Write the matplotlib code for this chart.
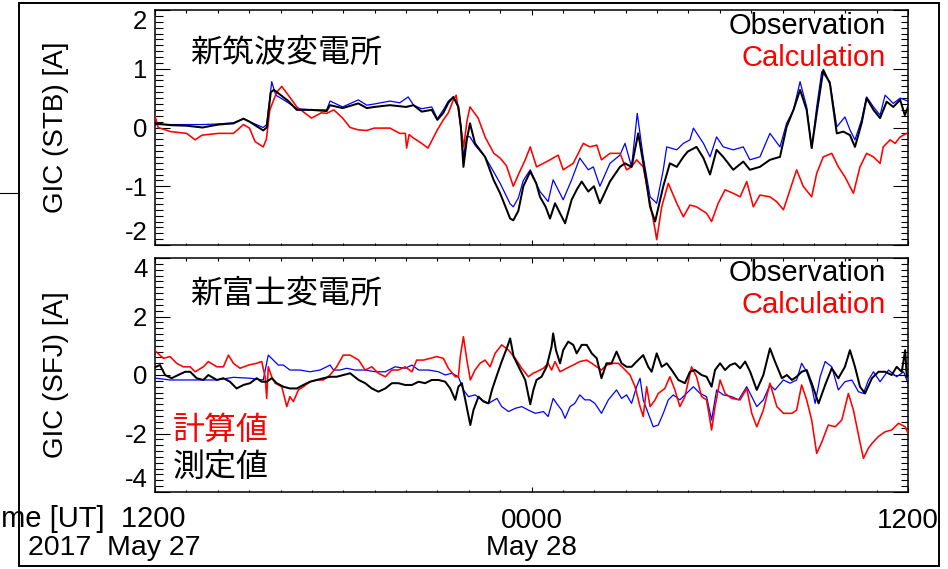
import matplotlib
matplotlib.use('Agg')
import matplotlib.pyplot as plt
import numpy as np
from matplotlib.ticker import FixedLocator, MultipleLocator
from matplotlib.patches import Rectangle
from matplotlib.lines import Line2D
from matplotlib.transforms import blended_transform_factory, offset_copy

# ---------------- data (hours since 2017-05-27 12:00 UT, current in A) ----------------
# Top panel: 新筑波変電所 (STB)
stb_obs = np.array([
    (0.0, 0.07), (0.5, 0.04), (1.01, 0.03), (1.51, 0.0), (2.02, 0.05), (2.5, 0.07), (2.82, 0.15),
    (3.01, 0.1), (3.45, -0.05), (3.56, 0.0), (3.69, 0.6), (3.79, 0.64), (4.01, 0.55), (4.25, 0.45),
    (4.52, 0.3), (4.99, 0.3), (5.47, 0.28), (5.58, 0.38), (5.98, 0.33), (6.48, 0.41), (6.75, 0.33),
    (6.99, 0.35), (7.49, 0.38), (8.0, 0.35), (8.24, 0.38), (8.5, 0.27), (8.82, 0.3), (9.0, 0.13),
    (9.19, 0.25), (9.35, 0.42), (9.51, 0.52), (9.67, 0.35), (9.75, 0.0), (9.83, -0.67), (9.94, -0.2),
    (10.04, 0.07), (10.2, -0.27), (10.52, -0.5), (10.79, -0.89), (11.0, -1.12), (11.32, -1.55),
    (11.42, -1.58), (11.58, -1.42), (11.74, -1.0), (11.96, -0.75), (12.15, -0.95), (12.27, -1.18),
    (12.45, -1.35), (12.59, -1.55), (12.75, -1.29), (12.9, -1.45), (13.07, -1.63), (13.28, -1.23),
    (13.45, -1.05), (13.6, -0.92), (13.81, -1.09), (13.99, -1.0), (14.18, -1.29), (14.5, -0.92),
    (14.82, -0.67), (14.98, -0.61), (15.19, -0.67), (15.4, -0.1), (15.62, -0.78), (15.78, -1.35),
    (15.94, -1.6), (16.2, -1.0), (16.41, -0.61), (16.63, -0.67), (16.84, -0.5), (16.98, -0.41),
    (17.26, -0.33), (17.48, -0.52), (17.69, -0.8), (17.9, -0.38), (18.11, -0.5), (18.43, -0.72),
    (18.75, -0.58), (18.96, -0.72), (19.28, -0.67), (19.6, -0.55), (19.92, -0.5), (20.13, 0.01),
    (20.35, 0.3), (20.56, 0.64), (20.77, 0.3), (20.93, -0.35), (21.09, 0.24), (21.3, 0.98),
    (21.51, 0.75), (21.73, -0.1), (21.94, -0.07), (22.15, -0.13), (22.31, -0.33), (22.52, 0.07),
    (22.68, 0.5), (22.9, 0.3), (23.11, 0.16), (23.32, 0.44), (23.53, 0.35), (23.75, 0.47),
    (23.9, 0.21), (24.0, 0.35)])

stb_calc = np.array([
    (0.0, 0.2), (0.1, 0.0), (0.5, -0.07), (1.01, -0.1), (1.28, -0.21), (1.5, -0.13), (2.02, -0.1),
    (2.5, -0.1), (2.82, 0.05), (3.01, -0.01), (3.19, -0.24), (3.45, -0.33), (3.55, -0.2), (3.66, 0.3),
    (3.88, 0.6), (4.04, 0.7), (4.25, 0.55), (4.52, 0.35), (4.99, 0.16), (5.3, 0.25), (5.47, 0.24),
    (5.7, 0.3), (5.98, 0.16), (6.22, 0.0), (6.48, -0.04), (6.75, -0.05), (6.99, -0.01), (7.49, -0.01),
    (7.8, -0.1), (7.98, -0.1), (8.02, -0.35), (8.1, -0.12), (8.24, -0.18), (8.5, -0.27), (8.7, -0.35),
    (9.0, -0.04), (9.19, 0.13), (9.35, 0.25), (9.51, 0.47), (9.6, 0.55), (9.75, 0.0), (9.84, -0.33),
    (9.94, 0.1), (10.04, 0.35), (10.3, 0.16), (10.52, -0.16), (10.8, -0.44), (11.0, -0.52),
    (11.2, -0.65), (11.42, -1.0), (11.6, -0.78), (11.8, -0.55), (11.96, -0.33), (12.16, -0.67),
    (12.38, -0.61), (12.59, -0.55), (12.85, -0.47), (13.01, -0.72), (13.33, -0.61), (13.65, -0.27),
    (13.86, -0.33), (14.08, -0.3), (14.23, -0.55), (14.5, -0.44), (14.82, -0.44), (15.03, -0.72),
    (15.19, -0.67), (15.35, -0.55), (15.56, -0.67), (15.72, -1.12), (15.94, -1.74), (15.99, -1.91),
    (16.15, -1.35), (16.36, -0.95), (16.63, -1.29), (16.84, -1.52), (17.05, -1.32), (17.26, -1.35),
    (17.58, -1.46), (17.74, -1.6), (17.95, -1.29), (18.17, -1.06), (18.43, -1.12), (18.65, -1.18),
    (18.86, -0.92), (19.07, -1.35), (19.28, -1.15), (19.6, -1.18), (19.81, -1.26), (20.03, -1.4),
    (20.24, -1.06), (20.45, -0.72), (20.66, -1.0), (20.93, -1.18), (21.09, -0.78), (21.3, -0.5),
    (21.57, -0.44), (21.78, -0.67), (21.99, -0.84), (22.26, -1.12), (22.47, -0.67), (22.68, -0.44),
    (22.9, -0.5), (23.11, -0.61), (23.21, -0.33), (23.43, -0.21), (23.59, -0.27), (23.75, -0.16),
    (23.96, -0.1)])

stb_blue = np.array([
    (0.0, 0.05), (0.5, 0.05), (1.01, 0.05), (1.5, 0.05), (2.02, 0.06), (2.5, 0.08), (2.82, 0.15),
    (3.01, 0.1), (3.45, 0.0), (3.56, 0.05), (3.72, 0.78), (3.85, 0.55), (4.01, 0.5), (4.25, 0.42),
    (4.52, 0.32), (4.99, 0.3), (5.47, 0.3), (5.58, 0.45), (5.98, 0.35), (6.48, 0.47), (6.75, 0.38),
    (6.99, 0.4), (7.49, 0.45), (7.8, 0.42), (8.07, 0.52), (8.24, 0.38), (8.5, 0.32), (8.82, 0.35),
    (9.0, 0.15), (9.19, 0.3), (9.35, 0.45), (9.51, 0.52), (9.67, 0.35), (9.75, 0.0), (9.83, -0.5),
    (9.94, -0.15), (10.04, -0.16), (10.2, -0.3), (10.52, -0.5), (10.79, -0.75), (11.0, -0.95),
    (11.32, -1.3), (11.42, -1.35), (11.58, -1.2), (11.74, -0.9), (11.96, -0.72), (12.27, -1.09),
    (12.53, -1.26), (12.69, -0.89), (13.01, -1.23), (13.28, -0.89), (13.54, -0.52), (13.81, -0.72),
    (13.97, -0.67), (14.18, -1.0), (14.5, -0.61), (14.82, -0.47), (14.98, -0.27), (15.19, -0.67),
    (15.37, 0.24), (15.56, -0.5), (15.78, -1.18), (15.99, -1.29), (16.2, -0.72), (16.31, -0.33),
    (16.63, -0.38), (16.84, -0.27), (17.05, -0.21), (17.16, -0.01), (17.48, -0.27), (17.69, -0.5),
    (17.9, -0.16), (18.11, -0.33), (18.43, -0.38), (18.75, -0.33), (18.96, -0.55), (19.28, -0.5),
    (19.6, -0.1), (19.92, -0.33), (20.13, 0.07), (20.35, 0.3), (20.56, 0.78), (20.77, 0.35),
    (20.93, -0.35), (21.09, 0.35), (21.25, 0.95), (21.51, 0.78), (21.73, 0.01), (21.99, 0.18),
    (22.15, -0.04), (22.31, -0.21), (22.52, 0.13), (22.68, 0.52), (22.9, 0.35), (23.11, 0.21),
    (23.27, 0.55), (23.53, 0.41), (23.75, 0.5), (23.9, 0.47), (23.99, 0.45)])

# Bottom panel: 新富士変電所 (SFJ)
sfj_obs = np.array([
    (0.03, 0.28), (0.16, 0.34), (0.32, 0.0), (0.53, -0.11), (0.74, 0.0), (0.96, 0.11), (1.12, 0.11),
    (1.33, -0.11), (1.54, -0.17), (1.70, 0.0), (1.97, -0.17), (2.18, -0.11), (2.39, -0.23),
    (2.60, -0.46), (2.82, -0.34), (3.03, -0.28), (3.24, -0.11), (3.40, -0.23), (3.56, -0.23),
    (3.72, -0.11), (3.88, -0.28), (4.09, -0.4), (4.30, -0.46), (4.52, -0.46), (4.73, -0.34),
    (4.94, -0.23), (5.15, -0.17), (5.37, -0.11), (5.58, -0.06), (5.79, -0.06), (6.00, 0.0),
    (6.22, 0.06), (6.49, -0.17), (6.70, -0.28), (6.91, -0.46), (7.12, -0.57), (7.34, -0.46),
    (7.55, -0.28), (7.76, -0.28), (7.97, -0.34), (8.19, -0.34), (8.40, -0.23), (8.61, -0.28),
    (8.82, -0.17), (9.04, -0.17), (9.25, -0.23), (9.41, -0.46), (9.57, -0.85), (9.67, -0.4),
    (9.78, -0.28), (9.89, -0.85), (10.05, -1.71), (10.15, -1.2), (10.31, -0.74), (10.47, -0.91),
    (10.63, -0.97), (10.74, -0.51), (10.90, 0.0), (11.05, 0.46), (11.21, 0.91), (11.32, 1.25),
    (11.43, 0.63), (11.59, 0.28), (11.80, -0.17), (11.96, -1.0), (12.06, -0.51), (12.16, -0.17),
    (12.32, -0.06), (12.48, 0.28), (12.64, 0.97), (12.69, 1.42), (12.78, 0.85), (12.91, 0.4),
    (13.01, 0.85), (13.17, 1.14), (13.33, 1.03), (13.44, 0.74), (13.60, 1.03), (13.76, 1.03),
    (13.92, 0.74), (14.08, 0.57), (14.23, -0.11), (14.39, 0.4), (14.55, 0.4), (14.71, 0.8),
    (14.87, 0.4), (15.03, 0.28), (15.19, 0.28), (15.35, 0.46), (15.56, 0.68), (15.72, 0.28),
    (15.83, 0.11), (15.99, 0.74), (16.15, 0.28), (16.31, 0.4), (16.47, 0.17), (16.68, -0.17),
    (16.89, -0.28), (17.05, 0.11), (17.21, 0.17), (17.42, 0.0), (17.58, -0.06), (17.74, -0.4),
    (17.85, 0.17), (18.01, 0.4), (18.17, 0.17), (18.33, 0.34), (18.49, 0.4), (18.65, 0.23),
    (18.81, 0.46), (18.97, 0.11), (19.18, -0.51), (19.39, 0.0), (19.60, 0.91), (19.76, 0.46),
    (19.98, -0.11), (20.14, 0.0), (20.30, -0.17), (20.45, -0.06), (20.61, 0.11), (20.77, 0.17),
    (20.93, -0.28), (21.15, -0.97), (21.36, -0.34), (21.57, 0.23), (21.78, -0.11), (21.99, 0.28),
    (22.15, 0.85), (22.31, 0.28), (22.47, -0.4), (22.63, -0.63), (22.85, -0.11), (23.06, 0.11),
    (23.27, 0.11), (23.48, 0.0), (23.64, 0.28), (23.80, 0.11), (23.91, 0.85), (23.96, -0.06)])

sfj_calc = np.array([
    (0.03, 0.8), (0.27, 0.57), (0.48, 0.63), (0.69, 0.4), (0.90, 0.28), (1.12, 0.28), (1.28, 0.11),
    (1.54, 0.28), (1.70, 0.46), (1.97, 0.28), (2.18, 0.28), (2.34, 0.68), (2.50, 0.4), (2.71, 0.23),
    (2.98, 0.34), (3.24, 0.4), (3.40, 0.46), (3.51, -0.06), (3.56, -0.8), (3.61, 0.28), (3.72, -0.06),
    (3.83, -0.28), (4.04, -0.4), (4.20, -1.08), (4.30, -0.74), (4.41, -0.91), (4.57, -0.51),
    (4.73, -0.4), (4.94, -0.23), (5.15, -0.17), (5.37, -0.17), (5.58, 0.0), (5.79, 0.28),
    (6.00, 0.68), (6.22, 0.68), (6.49, 0.51), (6.70, 0.17), (6.91, 0.28), (7.12, 0.06), (7.34, -0.06),
    (7.55, 0.17), (7.76, 0.17), (7.97, 0.28), (8.19, 0.11), (8.34, 0.51), (8.56, 0.51), (8.77, 0.57),
    (8.98, 0.63), (9.19, 0.57), (9.35, 0.23), (9.57, -0.06), (9.67, -0.06), (9.73, 0.63),
    (9.83, 1.31), (9.94, 0.51), (10.05, -0.17), (10.20, 0.17), (10.36, 0.4), (10.52, 0.51),
    (10.68, 0.28), (10.84, 0.74), (11.05, 1.03), (11.27, 0.85), (11.48, 0.57), (11.69, 0.23),
    (11.90, -0.06), (12.05, 0.06), (12.16, 0.11), (12.38, 0.23), (12.53, 0.4), (12.64, 0.17),
    (12.75, 0.46), (12.91, 0.11), (13.12, 0.23), (13.33, 0.34), (13.54, 0.46), (13.76, 0.51),
    (13.92, 0.4), (14.08, 0.28), (14.23, 0.17), (14.39, 0.34), (14.61, 0.4), (14.77, 0.4),
    (14.93, 0.23), (15.14, 0.0), (15.30, -0.4), (15.46, -1.08), (15.56, -1.42), (15.67, -0.4),
    (15.78, -1.08), (15.94, -0.85), (16.04, -0.63), (16.25, -0.46), (16.41, -0.06), (16.57, -0.51),
    (16.73, -1.08), (16.89, -0.74), (17.10, 0.28), (17.26, -0.06), (17.42, -0.74), (17.58, -0.85),
    (17.74, -1.88), (17.85, -1.08), (18.01, -0.17), (18.17, -0.63), (18.38, -0.8), (18.65, -0.85),
    (18.86, -0.46), (19.02, -1.31), (19.18, -1.77), (19.39, -1.2), (19.60, -0.28), (19.82, -1.08),
    (20.03, -1.31), (20.30, -1.31), (20.45, -1.2), (20.61, -0.34), (20.77, -0.85), (20.93, -1.54),
    (21.09, -2.68), (21.25, -2.3), (21.46, -1.71), (21.68, -1.77), (21.89, -1.54), (22.10, -0.63),
    (22.26, -1.2), (22.47, -2.3), (22.58, -2.85), (22.74, -2.5), (22.85, -2.34), (23.06, -2.1),
    (23.27, -1.94), (23.48, -1.88), (23.70, -1.65), (23.91, -1.77), (24.0, -1.99)])

sfj_blue = np.array([
    (0.03, -0.11), (0.48, -0.17), (0.90, -0.17), (1.43, -0.17), (1.97, -0.17), (2.50, -0.08),
    (3.03, -0.11), (3.45, -0.17), (3.61, 0.68), (3.77, 0.51), (3.93, 0.34), (4.09, 0.34),
    (4.30, 0.17), (4.62, 0.17), (4.94, 0.11), (5.26, 0.17), (5.47, 0.28), (5.58, 0.34), (5.69, 0.17),
    (5.90, 0.17), (6.11, 0.23), (6.38, 0.17), (6.70, 0.17), (7.02, 0.11), (7.34, 0.11), (7.65, 0.28),
    (7.97, 0.23), (8.19, 0.34), (8.40, 0.17), (8.72, 0.17), (9.04, 0.11), (9.25, 0.0), (9.46, 0.06),
    (9.67, -0.06), (9.83, -0.51), (9.99, -0.74), (10.20, -0.68), (10.42, -0.85), (10.63, -0.97),
    (10.90, -0.8), (11.05, -1.08), (11.27, -1.25), (11.48, -1.14), (11.69, -1.08), (11.90, -1.2),
    (12.12, -1.31), (12.38, -1.25), (12.53, -1.42), (12.69, -0.8), (12.80, -0.97), (12.96, -1.2),
    (13.07, -1.48), (13.23, -1.08), (13.38, -0.97), (13.54, -0.68), (13.70, -0.85), (13.86, -0.85),
    (14.02, -0.97), (14.23, -1.31), (14.45, -0.85), (14.71, -0.51), (14.87, -0.8), (15.03, -0.68),
    (15.19, -0.97), (15.35, -0.4), (15.46, -0.11), (15.56, -0.85), (15.72, -1.31), (15.88, -1.77),
    (16.04, -1.71), (16.20, -1.31), (16.36, -0.85), (16.52, -0.68), (16.73, -0.85), (16.94, -0.63),
    (17.16, -0.4), (17.37, -0.63), (17.58, -0.74), (17.74, -1.54), (17.90, -0.51), (18.11, -0.68),
    (18.38, -0.74), (18.60, -0.85), (18.86, -0.4), (19.02, -0.74), (19.18, -1.08), (19.39, -0.85),
    (19.60, -0.34), (19.76, -0.51), (20.03, -0.17), (20.24, -0.28), (20.45, -0.17), (20.61, 0.4),
    (20.77, 0.11), (20.93, -0.4), (21.04, -0.97), (21.20, -0.06), (21.36, 0.46), (21.57, 0.28),
    (21.78, -0.51), (21.99, -0.23), (22.21, -0.17), (22.42, -0.57), (22.58, -0.63), (22.74, -0.17),
    (22.90, 0.11), (23.11, -0.23), (23.38, 0.17), (23.64, -0.06), (23.86, 0.11), (24.0, -0.28)])

x_major = [0, 12, 24]
x_line1 = ['Time [UT]  1200', '0000', '1200']
x_line2 = ['2017  May 27', 'May 28', '']
stb_yticks = [-2, -1, 0, 1, 2]
stb_ylabels = ['-2', '-1', '0', '1', '2']
sfj_yticks = [-4, -2, 0, 2, 4]
sfj_ylabels = ['-4', '-2', '0', '2', '4']

# ---------------- figure ----------------
W, H = 948, 569
LAT = ['Liberation Sans', 'DejaVu Sans']
CJK = ['Noto Sans CJK JP', 'DejaVu Sans']
plt.rcParams['font.family'] = LAT
plt.rcParams['axes.unicode_minus'] = False

fig = plt.figure(figsize=(W / 100, H / 100), dpi=100)


def rect(l, t, r, b):
    return [l / W, 1 - b / H, (r - l) / W, (b - t) / H]


ax1 = fig.add_axes(rect(155, 10, 908, 245))
ax2 = fig.add_axes(rect(155, 258, 908, 492))

panels = [
    (ax1, stb_obs, stb_calc, stb_blue, (-2, 2), stb_yticks, stb_ylabels, 0.1),
    (ax2, sfj_obs, sfj_calc, sfj_blue, (-4, 4), sfj_yticks, sfj_ylabels, 0.2),
]

for ax, obs, calc, blue, ylim, yt, yl, yminor in panels:
    ax.plot(blue[:, 0], blue[:, 1], color='#0000ff', lw=0.9, zorder=2)
    ax.plot(calc[:, 0], calc[:, 1], color='#ff0000', lw=1.15, zorder=3)
    ax.plot(obs[:, 0], obs[:, 1], color='black', lw=1.45, zorder=4)
    ax.set_xlim(0, 24)
    ax.set_ylim(*ylim)
    ax.xaxis.set_major_locator(FixedLocator(x_major))
    ax.xaxis.set_minor_locator(MultipleLocator(1))
    ax.set_yticks(yt)
    ax.set_yticklabels(yl)
    ax.yaxis.set_minor_locator(MultipleLocator(yminor))
    ax.tick_params(which='both', direction='in', top=True, right=True, color='black', width=0.8)
    ax.tick_params(axis='y', which='major', length=10.8, labelsize=18.5, pad=5.5)
    ax.tick_params(axis='y', which='minor', length=5.4)
    ax.tick_params(axis='x', which='major', length=3.6, labelbottom=False)
    ax.tick_params(axis='x', which='minor', length=1.8)
    for s in ax.spines.values():
        s.set_linewidth(1.1)
    ticks = ax.yaxis.get_major_ticks()
    ticks[0].label1.set_va('bottom')
    ticks[-1].label1.set_va('top')

# y-axis titles
fig.text(56 / W, 1 - 127.5 / H, 'GIC (STB) [A]', rotation=90, ha='center', va='center', fontsize=20)
fig.text(56 / W, 1 - 375 / H, 'GIC (SFJ) [A]', rotation=90, ha='center', va='center', fontsize=20)

# station names and legends
fig.text(190 / W, 1 - 53 / H, '新筑波変電所', family=CJK, fontsize=23, ha='left', va='center')
fig.text(190 / W, 1 - 294 / H, '新富士変電所', family=CJK, fontsize=23, ha='left', va='center')
fig.text(173 / W, 1 - 430 / H, '計算値', family=CJK, fontsize=23, color='#ff0000', ha='left', va='center')
fig.text(173 / W, 1 - 467 / H, '測定値', family=CJK, fontsize=23, color='black', ha='left', va='center')
for yo, yc in [(26, 58), (273, 305)]:
    fig.text(886 / W, 1 - yo / H, 'Observation', fontsize=21, ha='right', va='center', color='black')
    fig.text(886 / W, 1 - yc / H, 'Calculation', fontsize=21, ha='right', va='center', color='#ff0000')

# time axis labels
tr = blended_transform_factory(ax2.transData, fig.transFigure)
for i, (xv, l1, l2) in enumerate(zip(x_major, x_line1, x_line2)):
    if i == 0:
        t1 = offset_copy(tr, fig=fig, x=30, y=0, units='dots')
        t2 = offset_copy(tr, fig=fig, x=46, y=0, units='dots')
        fig.text(xv, 1 - 519 / H, l1, transform=t1, ha='right', va='center', fontsize=21)
        fig.text(xv, 1 - 548 / H, l2, transform=t2, ha='right', va='center', fontsize=20.5)
    else:
        fig.text(xv, 1 - 521 / H, l1, transform=tr, ha='center', va='center', fontsize=20)
        if l2:
            fig.text(xv, 1 - 548 / H, l2, transform=tr, ha='center', va='center', fontsize=20)

# outer frame of the slide
fig.add_artist(Rectangle((19 / W, 1 - 566 / H), (939 - 19) / W, (566 - 3) / H, fill=False,
                         lw=1.4, edgecolor='black', transform=fig.transFigure))
fig.add_artist(Line2D([0, 19 / W], [1 - 193 / H, 1 - 193 / H], lw=0.8, color='black',
                      transform=fig.transFigure))

fig.savefig('out.png', dpi=100)
